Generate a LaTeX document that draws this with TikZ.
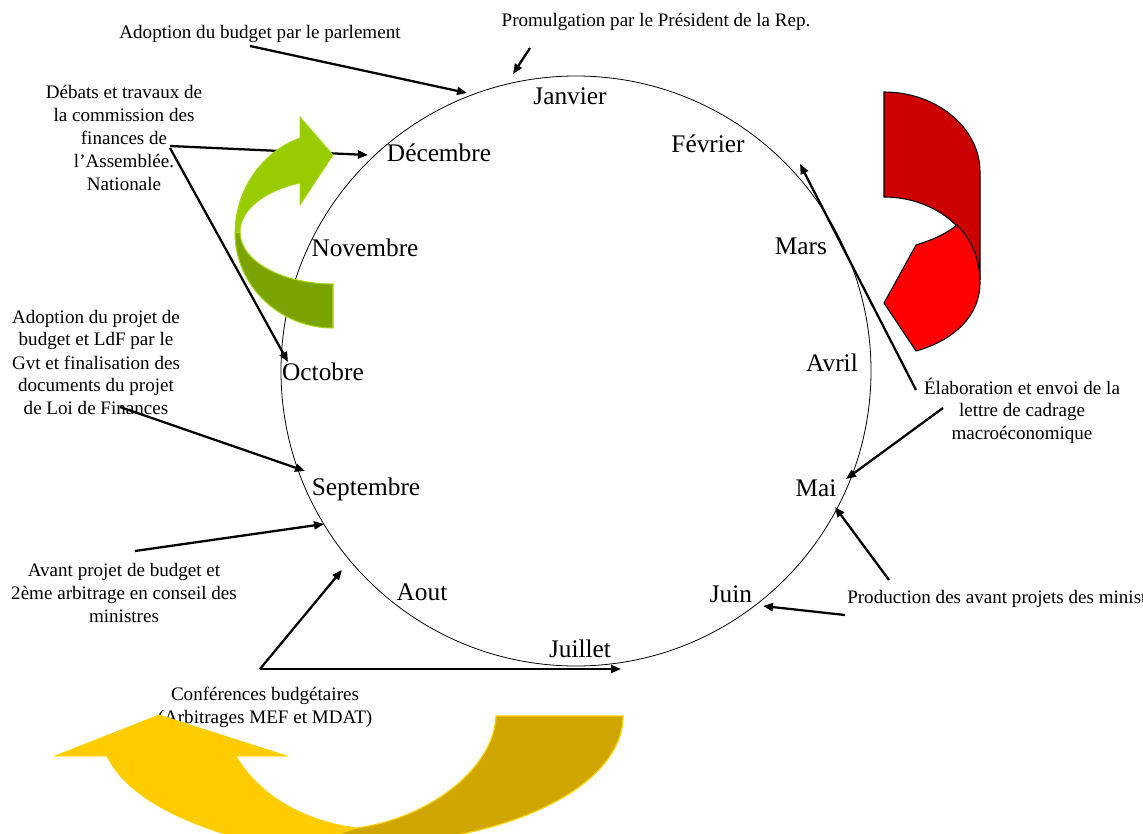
\documentclass[tikz,border=0pt]{standalone}
\usepackage{fontspec}
\setmainfont{Liberation Serif}
\usetikzlibrary{arrows.meta}
\definecolor{gLight}{RGB}{153,204,0}
\definecolor{gDark}{RGB}{122,163,0}
\definecolor{gEdge}{RGB}{165,214,20}
\definecolor{rDark}{RGB}{204,0,0}
\definecolor{rLight}{RGB}{255,0,0}
\definecolor{yLight}{RGB}{255,204,0}
\definecolor{yDark}{RGB}{207,166,0}
\definecolor{yEdge}{RGB}{255,208,0}
\begin{document}
\begin{tikzpicture}[x=0.75pt,y=-0.75pt,
  month/.style={font=\fontsize{19}{23}\selectfont, inner sep=0pt, anchor=base},
  lab/.style={font=\fontsize{14.3}{17.25}\selectfont, inner sep=0pt, anchor=base, align=center},
  conn/.style={line width=1.7pt, -{Triangle[length=7.5pt,width=6pt]}},
]
\useasboundingbox (0,0) rectangle (1143,834);
\clip (0,0) rectangle (1143,834);

% calendar circle
\draw[line width=0.6pt] (576,371) circle[radius=295];

% months
\node[month] (jan) at (570,105) {Janvier};
\node[month] (feb) at (708,153) {Février};
\node[month] (mar) at (801,255) {Mars};
\node[month] (apr) at (832,372) {Avril};
\node[month] (may) at (816,496) {Mai};
\node[month] (jun) at (731,602) {Juin};
\node[month] (jul) at (580,657) {Juillet};
\node[month] (aug) at (422,600) {Aout};
\node[month] (sep) at (366,495) {Septembre};
\node[month] (oct) at (323,381) {Octobre};
\node[month] (nov) at (365,257) {Novembre};
\node[month] (dec) at (439,162) {Décembre};

% labels (base anchor = baseline of the last line)
\node[lab] (adop) at (260,39) {Adoption du budget par le parlement};
\node[lab] (prom) at (656,27) {Promulgation par le Président de la Rep.};
\node[lab] (deb) at (124,191) {Débats et travaux de\\la commission des\\finances de\\l’Assemblée.\\Nationale};
\node[lab] (proj) at (96,415) {Adoption du projet de\\budget et LdF par le\\Gvt et finalisation des\\documents du projet\\de Loi de Finances};
\node[lab] (avant) at (124,622) {Avant projet de budget et\\2ème arbitrage en conseil des\\ministres};
\node[lab] (conf) at (265,723) {Conférences budgétaires\\(Arbitrages MEF et MDAT)};
\node[lab] (elab) at (1022,440) {Élaboration et envoi de la\\lettre de cadrage\\macroéconomique};
\node[lab, anchor=base west] (prod) at (847,603) {Production des avant projets des ministères};

% connector end points
\coordinate (a1s) at (250,46);  \coordinate (a1e) at (467,93);
\coordinate (a2s) at (530,48);  \coordinate (a2e) at (513,74);
\coordinate (a3s) at (170,146); \coordinate (a3e) at (368,155);
\coordinate (a4s) at (170,148); \coordinate (a4e) at (288,362);
\coordinate (a5s) at (120,407); \coordinate (a5e) at (305,471);
\coordinate (a6s) at (135,551); \coordinate (a6e) at (324,524);
\coordinate (a7s) at (260,669); \coordinate (a7e) at (342,570);
\coordinate (a8e) at (621,669);
\coordinate (a9s) at (916,390); \coordinate (a9e) at (800,164);
\coordinate (a10s) at (943,408); \coordinate (a10e) at (846,479);
\coordinate (a11s) at (889,580); \coordinate (a11e) at (835,507);
\coordinate (a12s) at (845,615); \coordinate (a12e) at (763,606);

% arrow to Decembre (behind green arrow)
\draw[conn] (a3s) -- (a3e);

% green curved arrow
\fill[gDark, draw=gEdge, line width=0.8pt]
  (240,232) .. controls (240,261) and (282,284) .. (333,284) -- (333,328)
  .. controls (279,328) and (235,285) .. (235,233) -- cycle;
\fill[gLight, draw=gEdge, line width=0.6pt]
  (235,233) .. controls (235,191) and (261,152) .. (300,138) -- (300,117)
  -- (333,155) -- (300,205) -- (300,183)
  .. controls (264,191) and (240,210) .. (240,232) -- cycle;

% other connectors
\draw[conn] (a1s) -- (a1e);
\draw[conn] (a2s) -- (a2e);
\draw[conn] (a4s) -- (a4e);
\draw[conn] (a5s) -- (a5e);
\draw[conn] (a6s) -- (a6e);
\draw[conn] (a7s) -- (a7e);
\draw[conn] (a7s) -- (a8e);
\draw[conn] (a9s) -- (a9e);
\draw[conn] (a10s) -- (a10e);
\draw[conn] (a11s) -- (a11e);
\draw[conn] (a12s) -- (a12e);

% red shape
\filldraw[fill=rDark, draw=black, line width=0.8pt]
  (884,92) .. controls (937,92) and (980,128) .. (980,172) -- (980,280)
  .. controls (980,234) and (937,197) .. (884,197) -- cycle;
\filldraw[fill=rLight, draw=black, line width=0.8pt]
  (957,225) .. controls (972,240) and (980,260) .. (980,283)
  .. controls (980,315) and (955,340) .. (916,351) -- (884,303) -- (916,245)
  .. controls (932,240) and (946,234) .. (957,225) -- cycle;

% yellow curved arrow
\fill[yDark, draw=yEdge, line width=0.9pt]
  (496,716) -- (623,716) .. controls (623,787) and (505,844) .. (359,844)
  -- (300,844) -- (357,828) .. controls (430,818) and (494,768) .. (496,716) -- cycle;
\fill[yLight, draw=yEdge, line width=0.6pt]
  (55,756) -- (159,715) -- (287,756) -- (236,756)
  .. controls (262,800) and (310,822) .. (357,828) -- (290,850)
  .. controls (210,835) and (130,805) .. (107,756) -- cycle;
\end{tikzpicture}
\end{document}
